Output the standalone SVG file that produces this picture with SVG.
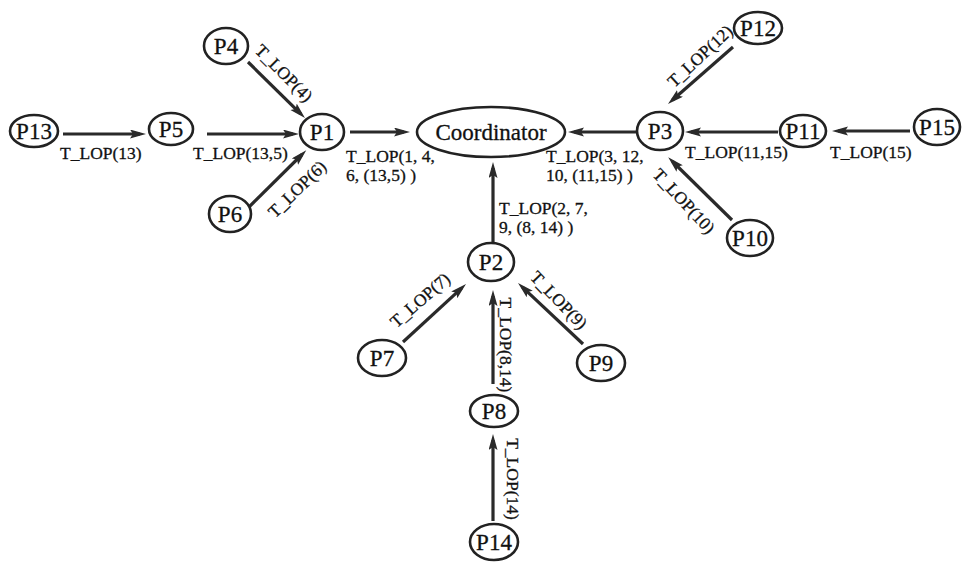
<svg xmlns="http://www.w3.org/2000/svg" width="963" height="563" viewBox="0 0 963 563">
<style>
.n ellipse{fill:#fff;stroke:#222;stroke-width:2.6}
.t{font-family:"Liberation Serif","Times New Roman",serif;font-size:23px;fill:#111;stroke:#111;stroke-width:0.3;text-anchor:middle}
.c line{stroke:#2a2a2a;stroke-width:3.2;marker-end:url(#ah)}
.l{font-family:"Liberation Serif","Times New Roman",serif;font-size:17.5px;fill:#111;stroke:#111;stroke-width:0.3}
.m{text-anchor:middle}
</style>
<defs>
<marker id="ah" markerUnits="userSpaceOnUse" markerWidth="18" markerHeight="10" refX="10" refY="4.5" orient="auto">
<path d="M0,0 L16,4.5 L0,9 L3,4.5 z" fill="#2a2a2a"/>
</marker>
</defs>
<rect width="963" height="563" fill="#fff"/>
<g class="c" id="connectors">
<line x1="63" y1="134" x2="140" y2="134"/>
<line x1="207" y1="134" x2="293" y2="134"/>
<line x1="248" y1="62" x2="300.7" y2="113.8"/>
<line x1="248" y1="208" x2="302" y2="154.5"/>
<line x1="350" y1="132" x2="404" y2="132"/>
<line x1="636" y1="132" x2="574" y2="132"/>
<line x1="778" y1="132" x2="691" y2="132"/>
<line x1="910" y1="131" x2="838" y2="131"/>
<line x1="733" y1="47" x2="672.5" y2="100"/>
<line x1="732" y1="220" x2="672.5" y2="161.5"/>
<line x1="493" y1="243" x2="493" y2="168"/>
<line x1="403" y1="342" x2="461.6" y2="288.1"/>
<line x1="583" y1="344" x2="522.4" y2="287.1"/>
<line x1="493" y1="384" x2="493" y2="296"/>
<line x1="493" y1="521" x2="493" y2="440"/>
</g>
<g id="labels">
<text class="l" x="60" y="159">T_LOP(13)</text>
<text class="l" x="193" y="159">T_LOP(13,5)</text>
<text class="l" x="346" y="162">T_LOP(1, 4,</text>
<text class="l" x="346" y="181">6, (13,5) )</text>
<text class="l" x="546" y="162">T_LOP(3, 12,</text>
<text class="l" x="546" y="181">10, (11,15) )</text>
<text class="l" x="685" y="158">T_LOP(11,15)</text>
<text class="l" x="830" y="158">T_LOP(15)</text>
<text class="l" x="499" y="214">T_LOP(2, 7,</text>
<text class="l" x="499" y="233">9, (8, 14) )</text>
<text class="l m" transform="translate(284,73) rotate(45)" y="6">T_LOP(4)</text>
<text class="l m" transform="translate(297,189) rotate(-44)" y="6">T_LOP(6)</text>
<text class="l m" transform="translate(700,56) rotate(-43)" y="6">T_LOP(12)</text>
<text class="l m" transform="translate(684,201) rotate(47)" y="6">T_LOP(10)</text>
<text class="l m" transform="translate(420,300) rotate(-41)" y="6">T_LOP(7)</text>
<text class="l m" transform="translate(559,300) rotate(46)" y="6">T_LOP(9)</text>
<text class="l m" transform="translate(506,345) rotate(90)" y="6">T_LOP(8,14)</text>
<text class="l m" transform="translate(513,479) rotate(90)" y="6">T_LOP(14)</text>
</g>
<g class="n" id="P13"><ellipse cx="34" cy="131" rx="24" ry="16"/><text class="t" x="34" y="139">P13</text></g>
<g class="n" id="P5"><ellipse cx="171" cy="129" rx="22" ry="16"/><text class="t" x="171" y="137">P5</text></g>
<g class="n" id="P1"><ellipse cx="322" cy="132" rx="22" ry="18"/><text class="t" x="322" y="140">P1</text></g>
<g class="n" id="P4"><ellipse cx="226" cy="46" rx="22" ry="18"/><text class="t" x="226" y="54">P4</text></g>
<g class="n" id="P6"><ellipse cx="230" cy="214" rx="21" ry="18"/><text class="t" x="230" y="222">P6</text></g>
<g class="n" id="Coordinator"><ellipse cx="491" cy="132" rx="74" ry="25"/><text class="t" x="491" y="140">Coordinator</text></g>
<g class="n" id="P3"><ellipse cx="660" cy="131" rx="23" ry="19"/><text class="t" x="660" y="139">P3</text></g>
<g class="n" id="P11"><ellipse cx="803" cy="131" rx="23" ry="16"/><text class="t" x="803" y="139">P11</text></g>
<g class="n" id="P15"><ellipse cx="937" cy="127" rx="23" ry="18"/><text class="t" x="937" y="135">P15</text></g>
<g class="n" id="P12"><ellipse cx="758" cy="28" rx="24" ry="16"/><text class="t" x="758" y="36">P12</text></g>
<g class="n" id="P10"><ellipse cx="750" cy="238" rx="23" ry="18"/><text class="t" x="750" y="246">P10</text></g>
<g class="n" id="P2"><ellipse cx="491" cy="262" rx="23" ry="19"/><text class="t" x="491" y="270">P2</text></g>
<g class="n" id="P7"><ellipse cx="382" cy="358" rx="24" ry="18"/><text class="t" x="382" y="366">P7</text></g>
<g class="n" id="P9"><ellipse cx="601" cy="363" rx="24" ry="18"/><text class="t" x="601" y="371">P9</text></g>
<g class="n" id="P8"><ellipse cx="494" cy="411" rx="24" ry="16"/><text class="t" x="494" y="419">P8</text></g>
<g class="n" id="P14"><ellipse cx="494" cy="542" rx="24" ry="18"/><text class="t" x="494" y="550">P14</text></g>
</svg>
